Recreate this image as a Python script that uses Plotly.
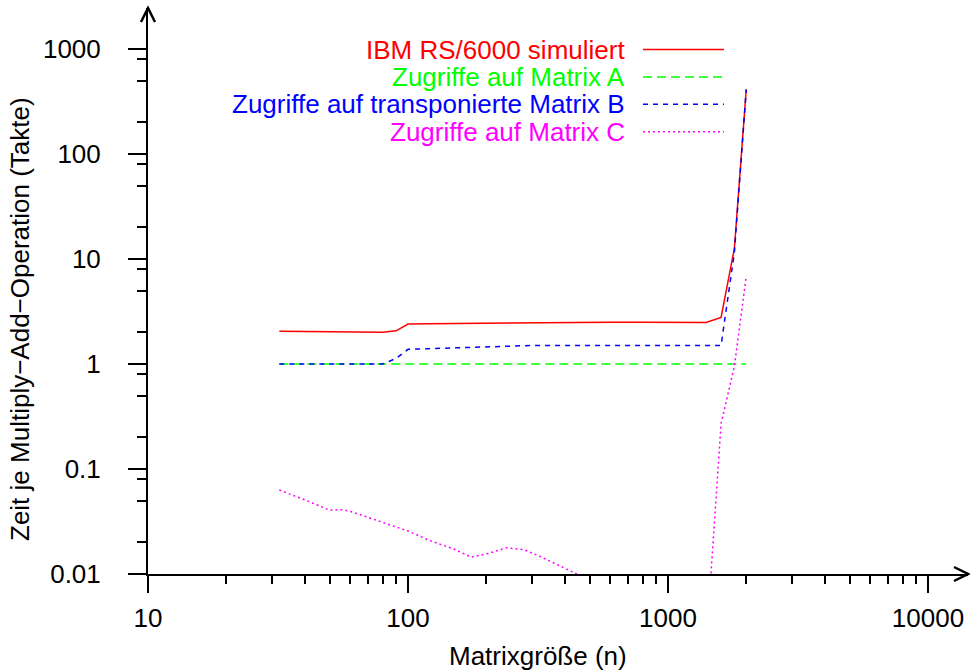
import plotly.graph_objects as go

# ---- data ----
n_main = [32, 40, 50, 60, 70, 80, 90, 100, 120, 150, 200, 250, 300, 400, 500,
          600, 800, 1000, 1200, 1400, 1600, 1800, 2000]
ibm_sim = [2.05, 2.04, 2.02, 2.03, 2.03, 2.01, 2.07, 2.40, 2.42, 2.43, 2.45, 2.48,
           2.5, 2.5, 2.5, 2.5, 2.5, 2.5, 2.49, 2.48, 2.78, 12.6, 415]
matrix_a = [1.0] * len(n_main)
matrix_b = [1.0, 1.0, 1.0, 1.0, 1.0, 1.0, 1.13, 1.38, 1.40, 1.42, 1.46, 1.49,
            1.5, 1.5, 1.5, 1.5, 1.5, 1.5, 1.5, 1.5, 1.5, 11.5, 410]
n_c = [32, 40, 50, 56, 60, 70, 80, 90, 100, 120, 150, 175, 200, 240, 280, 320,
       360, 400, 450, 500, 600, 800, 1000, 1200, 1400, 1600, 1800, 2000]
matrix_c = [0.063, 0.051, 0.0405, 0.041, 0.0395, 0.035, 0.031, 0.028, 0.0257,
            0.021, 0.0173, 0.0145, 0.0155, 0.0178, 0.0170, 0.0148, 0.0128, 0.0113,
            0.0099, 0.0085, 0.006, 0.004, 0.003, 0.0025, 0.002, 0.27, 0.95, 6.9]

x_ticks = [10, 100, 1000, 10000]
x_ticktext = ["10", "100", "1000", "10000"]
y_ticks = [0.01, 0.1, 1, 10, 100, 1000]
y_ticktext = ["0.01", "0.1", "1", "10", "100", "1000"]
x_minor = [m * d for d in (10, 100, 1000) for m in range(2, 10)]
y_minor = [m * d for d in (0.01, 0.1, 1, 10, 100) for m in (2, 5, 8)]

names = ["IBM RS/6000 simuliert", "Zugriffe auf Matrix A",
         "Zugriffe auf transponierte Matrix B", "Zugriffe auf Matrix C"]
colors = ["#ff0000", "#00ff00", "#0000ff", "#ff00ff"]
dashes = ["solid", "9px,5px", "5px,5px", "2px,3px"]

FONT = "Liberation Sans, Arial, Helvetica, sans-serif"
FS = 26

fig = go.Figure()
series = [(n_main, ibm_sim), (n_main, matrix_a), (n_main, matrix_b), (n_c, matrix_c)]
for (xs, ys), nm, c, d in zip(series, names, colors, dashes):
    fig.add_trace(go.Scatter(x=xs, y=ys, mode="lines", name=nm,
                             line=dict(color=c, width=1.5, dash=d),
                             showlegend=False, cliponaxis=True))

W, H = 970, 672
ML, MR, MT, MB = 148, 2, 8, 98
PW, PH = W - ML - MR, H - MT - MB

def px_x(px):
    return (px - ML) / PW

def px_y(py):
    return (H - MB - py) / PH

# manual legend (text left of sample line)
row_y = [49.6, 77, 104.3, 131.7]
for nm, c, d, yy in zip(names, colors, dashes, row_y):
    fig.add_annotation(x=px_x(627), y=px_y(yy), xref="paper", yref="paper",
                       text=nm, showarrow=False, xanchor="right", yanchor="middle",
                       font=dict(family=FONT, size=FS, color=c))
    fig.add_shape(type="line", xref="paper", yref="paper",
                  x0=px_x(643), x1=px_x(724), y0=px_y(yy), y1=px_y(yy),
                  line=dict(color=c, width=1.5, dash=d))

# axis titles
fig.add_annotation(x=px_x(538), y=px_y(656), xref="paper", yref="paper",
                   text="Matrixgröße (n)", showarrow=False, xanchor="center",
                   yanchor="middle", font=dict(family=FONT, size=FS, color="black"))
fig.add_annotation(x=px_x(20), y=px_y(319), xref="paper", yref="paper",
                   text="Zeit je Multiply\u2212Add\u2212Operation (Takte)", showarrow=False,
                   textangle=-90, xanchor="center", yanchor="middle",
                   font=dict(family=FONT, size=FS, color="black"))

# arrow heads on axes
fig.add_shape(type="path", xref="paper", yref="paper",
              xsizemode="pixel", ysizemode="pixel", xanchor=1, yanchor=0,
              path="M -14,7 L 0,0 L -14,-7", line=dict(color="black", width=2.5))
fig.add_shape(type="path", xref="paper", yref="paper",
              xsizemode="pixel", ysizemode="pixel", xanchor=0, yanchor=1,
              path="M -7,-14 L 0,0 L 7,-14", line=dict(color="black", width=2.5))

fig.update_xaxes(type="log", range=[1, 1 + PW / 260.0],
                 tickmode="array", tickvals=x_ticks, ticktext=x_ticktext,
                 ticks="outside", ticklen=17, tickwidth=2, tickcolor="black",
                 showline=True, linewidth=2, linecolor="black",
                 showgrid=False, zeroline=False, ticklabelstandoff=3,
                 tickfont=dict(family=FONT, size=FS, color="black"),
                 minor=dict(tickmode="array", tickvals=x_minor, ticks="outside",
                            ticklen=8, tickwidth=2, tickcolor="black", showgrid=False))
fig.update_yaxes(type="log", range=[-2, -2 + PH / 105.0],
                 tickmode="array", tickvals=y_ticks, ticktext=y_ticktext,
                 ticks="outside", ticklen=18, tickwidth=2, tickcolor="black",
                 showline=True, linewidth=2, linecolor="black",
                 showgrid=False, zeroline=False, ticklabelstandoff=22,
                 tickfont=dict(family=FONT, size=FS, color="black"),
                 minor=dict(tickmode="array", tickvals=y_minor, ticks="outside",
                            ticklen=9, tickwidth=2, tickcolor="black", showgrid=False))

fig.update_layout(width=W, height=H, margin=dict(l=ML, r=MR, t=MT, b=MB),
                  paper_bgcolor="white", plot_bgcolor="white", showlegend=False,
                  hovermode=False,
                  font=dict(family=FONT, size=FS, color="black"))

fig.write_html("out.html", config={"displayModeBar": False, "staticPlot": True},
               post_script="document.body.style.margin='0';"
                           "document.body.style.padding='0';"
                           "document.body.style.overflow='hidden';")
